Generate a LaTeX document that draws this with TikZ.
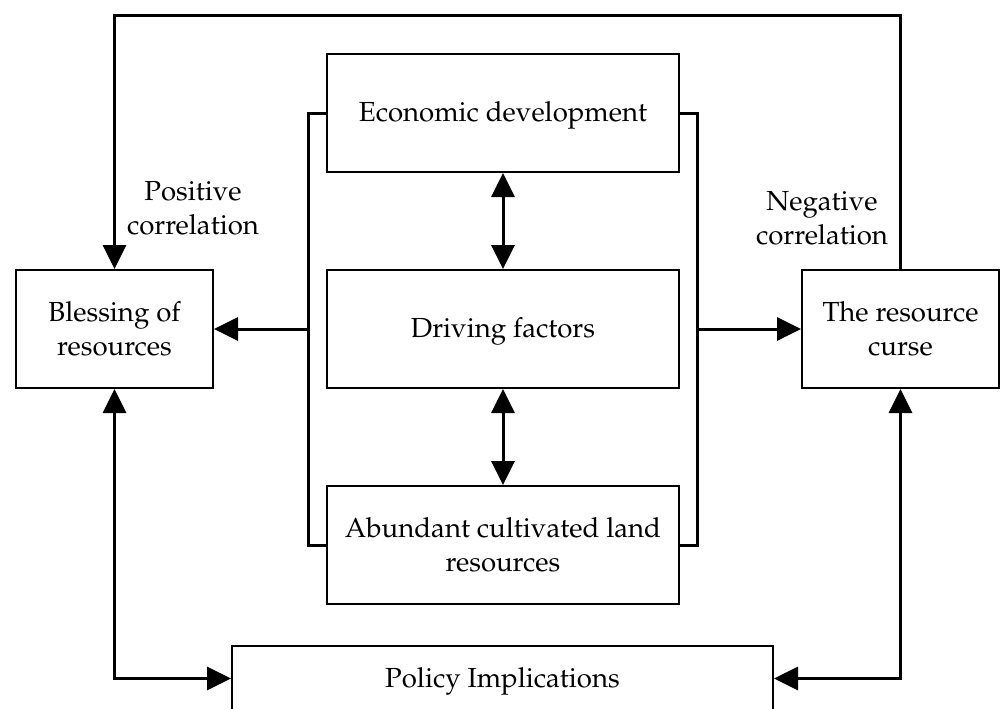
\documentclass[tikz,border=0pt]{standalone}
\usepackage[T1]{fontenc}
\usepackage{mathpazo}
\usetikzlibrary{arrows.meta,calc}
\begin{document}
\begin{tikzpicture}[x=0.5pt,y=-0.5pt,
  box/.style={draw,line width=1pt,inner sep=0pt,align=center,
    font=\fontsize{13.8pt}{17.2pt}\selectfont},
  sline/.style={execute at begin node={\rule{0pt}{12.8pt}}},
  lab/.style={inner sep=0pt,align=center,font=\fontsize{13.8pt}{17.2pt}\selectfont},
  conn/.style={line width=1.5pt},
  tip/.tip={Triangle[length=12pt,width=11.5pt]},
  arr/.style={conn,-tip},
  darr/.style={conn,tip-tip}]
\useasboundingbox (0,0) rectangle (1000,708);
% boxes
\node[box,minimum width=98.5pt,minimum height=59pt] (bless) at (114.5,329) {Blessing of\\resources};
\node[box,minimum width=98.5pt,minimum height=59pt] (curse) at (900.5,329) {The resource\\curse};
\node[box,sline,minimum width=176pt,minimum height=59pt] (eco) at (503,113) {Economic development};
\node[box,sline,minimum width=176pt,minimum height=59pt] (drive) at (503,329) {Driving factors};
\node[box,minimum width=176pt,minimum height=59pt] (abund) at (503,545) {Abundant cultivated land\\resources};
\node[box,sline,minimum width=270.5pt,minimum height=33pt] (policy) at (502.5,678.5) {Policy Implications};
% labels
\node[lab] (pos) at (193,208) {Positive\\correlation};
\node[lab] (neg) at (822,218) {Negative\\correlation};
% coordinates
\coordinate (tl) at (114.5,15);
\coordinate (tr) at (900.5,15);
\coordinate (lbx) at (308,0);
\coordinate (rbx) at (697,0);
% top connector
\draw[arr] (curse.north) -- (tr) -- (tl) -- (bless.north);
% brackets
\draw[conn] (eco.west) -- (eco.west -| lbx) -- (abund.west -| lbx) -- (abund.west);
\draw[conn] (eco.east) -- (eco.east -| rbx) -- (abund.east -| rbx) -- (abund.east);
\draw[arr] (drive.west -| lbx) -- (bless.east);
\draw[arr] (drive.east -| rbx) -- (curse.west);
% vertical double arrows
\draw[darr] (eco.south) -- (drive.north);
\draw[darr] (drive.south) -- (abund.north);
% bottom
\draw[darr] (bless.south) |- (policy.west);
\draw[darr] (curse.south) |- (policy.east);
\end{tikzpicture}
\end{document}
